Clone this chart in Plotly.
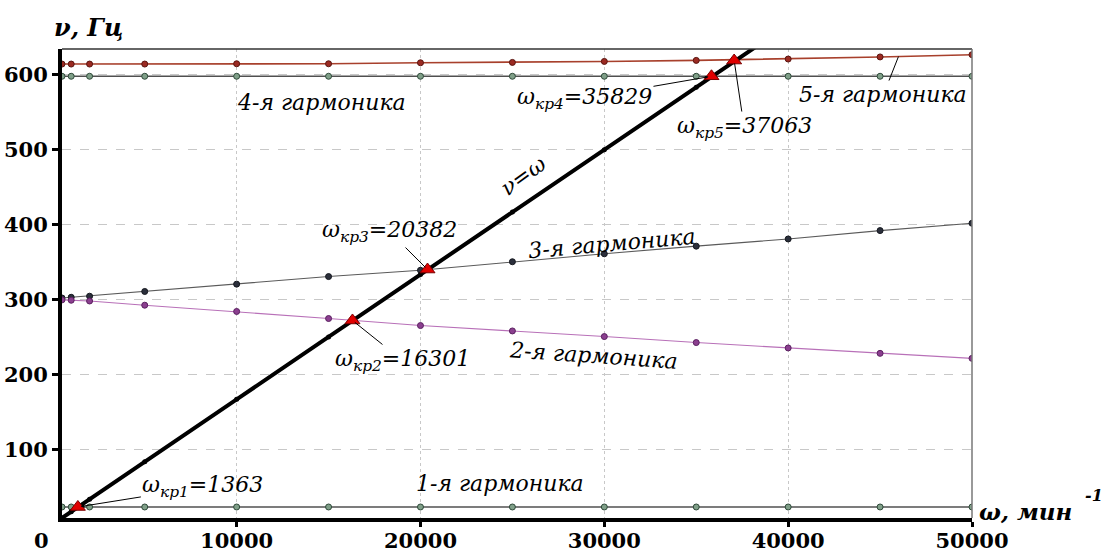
import plotly.graph_objects as go

# ---- data ----
omega = [500, 1000, 2000, 5000, 10000, 15000, 20000, 25000, 30000, 35000, 40000, 45000, 50000]
nu_line = [8.3, 16.7, 33.3, 83.3, 166.7, 250.0, 333.3, 416.7, 500.0, 583.3, 666.7, 750.0, 833.3]
harm1 = [23, 23, 23, 23, 23, 23, 23, 23, 23, 23, 23, 23, 23]
harm2 = [299.5, 299, 298, 292.4, 284, 274.6, 265.2, 258, 250.5, 242.5, 235.3, 228.1, 221.4]
harm3 = [302, 303, 304.4, 310.7, 320.5, 330.6, 339, 350.4, 361, 371.2, 380.8, 392, 401.8]
harm4 = [598, 598, 598, 598, 598, 598, 598, 598, 598, 598, 598, 598, 598]
harm5 = [614.3, 614.3, 614.3, 614.3, 614.7, 614.7, 616, 616.5, 617.8, 619.2, 621, 623.8, 626.8]

crit_omega = [1363, 16301, 20382, 35829, 37063]
crit_nu = [23, 272, 340, 598, 619]
crit_labels = ["ω<sub>кр1</sub>=1363", "ω<sub>кр2</sub>=16301", "ω<sub>кр3</sub>=20382",
               "ω<sub>кр4</sub>=35829", "ω<sub>кр5</sub>=37063"]

x_ticks = [10000, 20000, 30000, 40000, 50000]
y_ticks = [100, 200, 300, 400, 500, 600]

SERIF = "DejaVu Serif"

fig = go.Figure()

def add_series(y, line_color, line_w, mk_fill, mk_line, mk_size=6):
    fig.add_trace(go.Scatter(
        x=omega, y=y, mode="lines+markers",
        line=dict(color=line_color, width=line_w),
        marker=dict(size=mk_size, color=mk_fill, line=dict(color=mk_line, width=1)),
        hoverinfo="skip", showlegend=False))

add_series(harm1, "#505050", 1.6, "#7f9f88", "#2f4a3a")
add_series(harm4, "#505050", 1.6, "#7f9f88", "#2f4a3a")
add_series(harm5, "#a8402c", 1.6, "#9b2a22", "#5a1510")
add_series(harm3, "#5a5a5a", 1.1, "#2b2f3b", "#15181f")
add_series(harm2, "#b870b8", 1.1, "#8b3f8f", "#5a2060")

# nu = omega line
fig.add_trace(go.Scatter(
    x=omega, y=nu_line, mode="lines+markers",
    line=dict(color="black", width=4),
    marker=dict(size=5, color="black"),
    hoverinfo="skip", showlegend=False))

# critical points
fig.add_trace(go.Scatter(
    x=crit_omega, y=crit_nu, mode="markers",
    marker=dict(symbol="triangle-up", size=13, color="#e00000",
                line=dict(color="#7a0000", width=1)),
    hoverinfo="skip", showlegend=False))

ann_font = dict(family=SERIF, size=22, color="black", style="italic")

annotations = []
# critical point labels with pointers (ax, ay = pixel offset of label centre from the point)
crit_offsets = [(125, -20), (50, 40), (-38, -38), (-127, 22), (10, 67)]
crit_heads = [2, 0, 0, 2, 0]
for xo, yo, lab, (ax, ay), hd in zip(crit_omega, crit_nu, crit_labels, crit_offsets, crit_heads):
    annotations.append(dict(
        x=xo, y=yo, xref="x", yref="y", text=lab, showarrow=True,
        ax=ax, ay=ay, arrowhead=hd, arrowsize=0.7, arrowwidth=1, arrowcolor="black",
        font=ann_font, standoff=3))

# harmonic labels
annotations += [
    dict(x=14600, y=563, xref="x", yref="y", text="4-я гармоника", showarrow=False, font=ann_font),
    dict(x=46000, y=624.3, xref="x", yref="y", text="5-я гармоника", showarrow=True,
         ax=-15, ay=38, arrowhead=0, arrowwidth=1, arrowcolor="black", font=ann_font),
    dict(x=30400, y=375, xref="x", yref="y", text="3-я гармоника", showarrow=False,
         font=ann_font, textangle=-5),
    dict(x=29400, y=225, xref="x", yref="y", text="2-я гармоника", showarrow=False,
         font=ann_font, textangle=4),
    dict(x=24300, y=54, xref="x", yref="y", text="1-я гармоника", showarrow=False, font=ann_font),
    dict(x=25600, y=466, xref="x", yref="y", text="ν=ω", showarrow=False,
         font=ann_font, textangle=-36),
]

# axis titles and origin label
bold_it = dict(family=SERIF, size=23, color="black", style="italic", weight="bold")
annotations += [
    dict(x=0.029, y=1.045, xref="paper", yref="paper", text="ν, Гц", showarrow=False,
         font=dict(family=SERIF, size=24, color="black", style="italic", weight="bold"),
         xanchor="center", yanchor="middle"),
    dict(x=1.006, y=0.013, xref="paper", yref="paper", text="ω, мин", showarrow=False,
         font=bold_it, xanchor="left", yanchor="middle"),
    dict(x=1.122, y=0.048, xref="paper", yref="paper", text="-1", showarrow=False,
         font=dict(family=SERIF, size=16, color="black", style="italic", weight="bold"),
         xanchor="left", yanchor="middle"),
    dict(x=-0.023, y=-0.047, xref="paper", yref="paper", text="0", showarrow=False,
         font=dict(family=SERIF, size=21, color="black", weight="bold"),
         xanchor="center", yanchor="middle"),
]

tick_font = dict(family=SERIF, size=21, color="black", weight="bold")

fig.update_layout(
    width=1103, height=553,
    margin=dict(l=62, r=131, t=49, b=35),
    paper_bgcolor="white", plot_bgcolor="white",
    annotations=annotations,
    shapes=[
        dict(type="line", xref="paper", yref="paper", x0=0, x1=1, y0=1, y1=1,
             line=dict(color="#333333", width=1.5)),
        dict(type="line", xref="paper", yref="paper", x0=1, x1=1, y0=0, y1=1,
             line=dict(color="#777777", width=1.5)),
    ],
    xaxis=dict(range=[500, 50000], tickvals=x_ticks, ticktext=[str(v) for v in x_ticks],
               automargin=False,
               showline=True, linecolor="black", linewidth=4,
               ticks="outside", ticklen=5, tickwidth=3, tickcolor="black",
               tickfont=tick_font, ticklabelstandoff=-4,
               showgrid=True, gridcolor="#c8c8c8", gridwidth=1, griddash="dot",
               zeroline=False),
    yaxis=dict(range=[8.3, 634.4], tickvals=y_ticks, ticktext=[str(v) for v in y_ticks],
               automargin=False,
               showline=True, linecolor="black", linewidth=4,
               ticks="outside", ticklen=6, tickwidth=3, tickcolor="black",
               tickfont=tick_font,
               showgrid=True, gridcolor="#c8c8c8", gridwidth=1, griddash="dash",
               zeroline=False),
)

fig.write_html("out.html")
